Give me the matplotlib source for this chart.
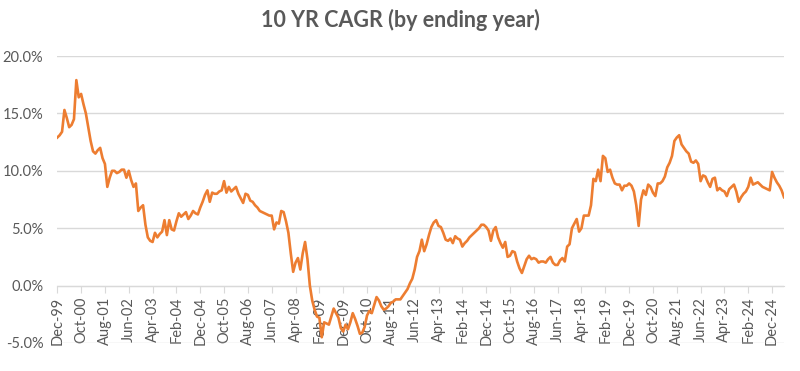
import matplotlib
matplotlib.use("Agg")
import matplotlib.pyplot as plt
from matplotlib.ticker import FuncFormatter

# monthly 10 yr CAGR (%), first value Dec-99, one row per 12 months (Dec..Nov)
cagr = [
    12.9, 13.1, 13.4, 15.3, 14.6, 13.8, 14.0, 14.5, 17.9, 16.4, 16.7, 15.8,
    15.0, 13.8, 12.6, 11.7, 11.5, 11.8, 12.0, 11.1, 10.6, 8.6, 9.4, 10.0,
    10.0, 9.8, 9.9, 10.1, 10.1, 9.4, 10.0, 9.2, 8.6, 8.9, 6.5, 6.8,
    7.0, 5.3, 4.2, 3.9, 3.8, 4.6, 4.2, 4.5, 4.7, 5.7, 4.4, 5.7,
    4.9, 4.8, 5.6, 6.3, 6.0, 6.2, 6.4, 5.8, 6.1, 6.5, 6.3, 6.2,
    6.8, 7.3, 7.9, 8.3, 7.3, 8.1, 8.0, 8.0, 8.2, 8.3, 9.1, 8.1,
    8.6, 8.2, 8.4, 8.6, 8.0, 7.6, 7.2, 8.0, 7.9, 7.4, 7.3, 7.0,
    6.8, 6.5, 6.4, 6.3, 6.2, 6.1, 6.1, 4.9, 5.5, 5.4, 6.5, 6.4,
    5.6, 4.6, 2.8, 1.2, 2.0, 2.4, 1.4, 2.8, 3.8, 2.3, 0.0, -1.3,
    -2.1, -2.7, -2.8, -4.5, -3.2, -3.3, -3.4, -2.7, -2.0, -2.4, -2.8, -3.7,
    -4.0, -3.4, -3.8, -3.2, -2.4, -2.9, -3.5, -4.2, -4.1, -3.6, -2.6, -2.2,
    -2.4, -1.7, -1.0, -1.3, -1.8, -2.1, -2.0, -1.8, -1.5, -1.4, -1.2, -1.2,
    -1.2, -0.9, -0.6, -0.3, 0.2, 0.6, 1.4, 2.5, 3.0, 4.0, 3.0, 3.6,
    4.4, 5.1, 5.5, 5.7, 5.2, 5.1, 4.6, 4.0, 3.9, 4.1, 3.7, 4.3,
    4.1, 4.0, 3.4, 3.7, 3.9, 4.2, 4.4, 4.6, 4.8, 5.0, 5.3, 5.3,
    5.1, 4.8, 3.9, 4.8, 5.1, 4.2, 3.7, 3.3, 3.8, 2.5, 2.6, 3.0,
    2.9, 2.1, 1.5, 1.1, 1.7, 2.3, 2.6, 2.3, 2.4, 2.3, 2.0, 2.1,
    2.1, 2.0, 2.3, 2.5, 2.0, 1.8, 1.8, 2.2, 2.4, 2.1, 3.4, 3.6,
    5.0, 5.4, 5.8, 4.7, 5.0, 6.1, 6.1, 6.1, 7.0, 9.3, 9.1, 10.1,
    9.1, 11.3, 11.1, 9.9, 10.1, 9.4, 8.9, 8.8, 8.8, 8.3, 8.7, 8.7,
    8.9, 8.7, 8.2, 7.0, 5.2, 7.5, 8.3, 7.9, 8.8, 8.6, 8.1, 7.8,
    8.9, 8.9, 9.1, 9.5, 10.3, 10.7, 11.3, 12.6, 12.9, 13.1, 12.3, 12.0,
    11.7, 11.5, 10.8, 10.7, 10.9, 10.6, 9.1, 9.6, 9.5, 9.0, 8.6, 9.3,
    9.4, 8.3, 8.5, 8.3, 8.2, 7.8, 8.4, 8.6, 8.8, 8.2, 7.3, 7.7,
    8.0, 8.2, 8.6, 9.4, 8.8, 8.9, 9.0, 8.8, 8.6, 8.5, 8.4, 8.3,
    9.9, 9.4, 9.0, 8.7, 8.3, 7.7,
]

tick_labels = ["Dec-99", "Oct-00", "Aug-01", "Jun-02", "Apr-03", "Feb-04",
               "Dec-04", "Oct-05", "Aug-06", "Jun-07", "Apr-08", "Feb-09",
               "Dec-09", "Oct-10", "Aug-11", "Jun-12", "Apr-13", "Feb-14",
               "Dec-14", "Oct-15", "Aug-16", "Jun-17", "Apr-18", "Feb-19",
               "Dec-19", "Oct-20", "Aug-21", "Jun-22", "Apr-23", "Feb-24",
               "Dec-24"]
tick_step = 10  # months between labels

gris = "#595959"
plt.rcParams["font.family"] = ["Lato", "DejaVu Sans"]

fig = plt.figure(figsize=(8, 3.71), dpi=100)
ax = fig.add_axes([0.0716, 0.0755, 0.9084, 0.7735])

ax.plot(range(len(cagr)), cagr, color="#ED7D31", lw=1.9, zorder=3)

ax.set_xlim(0, len(cagr) - 1)
ax.set_ylim(-5, 20)
ax.set_yticks([-5, 0, 5, 10, 15, 20])
ax.yaxis.set_major_formatter(FuncFormatter(lambda v, p: "%.1f%%" % v))
ax.grid(axis="y", color="#d9d9d9", lw=1)
ax.set_axisbelow(True)

for s in ["top", "right", "left"]:
    ax.spines[s].set_visible(False)
ax.spines["bottom"].set_position(("data", 0))
ax.spines["bottom"].set_color("#d9d9d9")

ax.tick_params(axis="y", length=0, pad=10, labelsize=10.5, labelcolor=gris)
ax.tick_params(axis="x", length=5, color="#d9d9d9", direction="out",
               pad=3, labelsize=10.5, labelcolor=gris, labelrotation=90)

ax.set_xticks([i * tick_step for i in range(len(tick_labels))])
ax.set_xticklabels(tick_labels, rotation=90, ha="center", va="top")

fig.text(0.5, 0.945, "10 YR CAGR (by ending year)", ha="center", va="center",
         fontsize=15.5, fontweight="bold", color=gris)

fig.savefig("out.png", dpi=100)
